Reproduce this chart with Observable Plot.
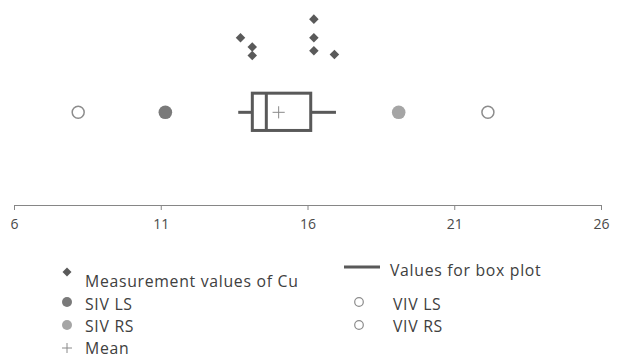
<!DOCTYPE html>
<html>
<head>
<meta charset="utf-8">
<script src="https://cdn.jsdelivr.net/npm/d3@7"></script>
<script src="https://cdn.jsdelivr.net/npm/@observablehq/plot@0.6"></script>
<style>
  html, body { margin: 0; padding: 0; background: #fff; }
  #wrap { position: relative; width: 620px; height: 360px; overflow: hidden; font-family: "Open Sans", sans-serif; }
  #chart svg { display: block; }
  #legend { position: relative; width: 620px; height: 115px; }
  .lg-text { position: absolute; font-size: 15.8px; letter-spacing: 0.7px; color: #404040; line-height: 16px; white-space: nowrap; }
  .lg-mark { position: absolute; overflow: visible; }
</style>
</head>
<body>
<div id="wrap">
  <div id="chart"></div>
  <div id="legend"></div>
</div>
<script>
// ---- data ----
const cuValues = [13.7, 14.1, 14.1, 16.2, 16.2, 16.2, 16.9];
const cuLevels = [1.8, 1.7, 1.61, 2.0, 1.8, 1.66, 1.62];
const boxStats = [13.64, 14.12, 14.58, 16.11, 16.97]; // whisker low, Q1, median, Q3, whisker high
const meanValue = [15.0];
const sivLS = [11.14];
const sivRS = [19.09];
const vivLS = [8.17];
const vivRS = [22.13];
const tickValues = [6, 11, 16, 21, 26];
const legendLabels = ["Measurement values of Cu", "SIV LS", "SIV RS", "Mean", "Values for box plot", "VIV LS", "VIV RS"];

// ---- derived tables ----
const cuData = cuValues.map((v, i) => ({x: v, y: cuLevels[i]}));
const row = 1, half = 0.2;
const [wLo, q1, med, q3, wHi] = boxStats;
const boxData = [{x1: q1, x2: q3, y1: row - half, y2: row + half}];
const medData = [{x: med, y1: row - half, y2: row + half}];
const whiskData = [{x1: wLo, x2: q1, y: row}, {x1: q3, x2: wHi, y: row}];

const FONT = "Open Sans, sans-serif";
const boxColor = "#595959";

const plot = Plot.plot({
  width: 620,
  height: 245,
  marginTop: 0,
  marginBottom: 40,
  marginLeft: 14,
  marginRight: 19,
  style: {fontFamily: FONT, background: "#fff"},
  x: {domain: [6, 26]},
  y: {domain: [0, 2.2], axis: null},
  marks: [
    Plot.ruleY([0], {stroke: "#868686", strokeWidth: 1}),
    Plot.axisX({ticks: tickValues, tickSize: 5, tickPadding: 9, stroke: "#868686", color: "#4a4a4a", fontSize: 14, label: null, tickFormat: d => String(d)}),
    Plot.ruleY(whiskData, {x1: "x1", x2: "x2", y: "y", stroke: boxColor, strokeWidth: 3}),
    Plot.rect(boxData, {x1: "x1", x2: "x2", y1: "y1", y2: "y2", fill: "#fff", stroke: boxColor, strokeWidth: 3}),
    Plot.ruleX(medData, {x: "x", y1: "y1", y2: "y2", stroke: boxColor, strokeWidth: 3}),
    Plot.dot(meanValue, {x: d => d, y: row, symbol: "plus", r: 4, stroke: "#8a8a8a", strokeWidth: 1}),
    Plot.dot(vivLS, {x: d => d, y: row, r: 6, fill: "#fff", stroke: "#8c8c8c", strokeWidth: 1.5}),
    Plot.dot(vivRS, {x: d => d, y: row, r: 6, fill: "#fff", stroke: "#8c8c8c", strokeWidth: 1.5}),
    Plot.dot(sivLS, {x: d => d, y: row, r: 6.8, fill: "#7a7a7a", stroke: "none"}),
    Plot.dot(sivRS, {x: d => d, y: row, r: 6.8, fill: "#a5a5a5", stroke: "none"}),
    Plot.dot(cuData, {x: "x", y: "y", symbol: "square", r: 3.8, rotate: 45, fill: "#5a5a5a", stroke: "none"})
  ]
});
document.getElementById("chart").appendChild(plot);

// ---- legend (HTML below the SVG) ----
const legend = document.getElementById("legend");
const swatches = {
  diamond: '<rect x="-3.2" y="-3.2" width="6.4" height="6.4" transform="rotate(45)" fill="#5a5a5a"/>',
  sivls: '<circle r="5" fill="#7a7a7a"/>',
  sivrs: '<circle r="5" fill="#a5a5a5"/>',
  mean: '<path d="M-5,0H5M0,-5V5" stroke="#8a8a8a" stroke-width="1"/>',
  line: '<line x1="-18" x2="18" y1="0" y2="0" stroke="#595959" stroke-width="3"/>',
  viv: '<circle r="4.3" fill="#fff" stroke="#8c8c8c" stroke-width="1.2"/>'
};
const kinds = ["diamond", "sivls", "sivrs", "mean", "line", "viv", "viv"];
// layout (relative to legend top = 245)
const layout = [
  {mx: 67, my: 27, tx: 85, ty: 36},
  {mx: 67, my: 57, tx: 85, ty: 59},
  {mx: 67, my: 80, tx: 85, ty: 81},
  {mx: 67, my: 103, tx: 85, ty: 103},
  {mx: 362, my: 22, tx: 390, ty: 25},
  {mx: 359, my: 57, tx: 393, ty: 59},
  {mx: 359, my: 80, tx: 393, ty: 81}
];
legendLabels.forEach((label, i) => {
  const L = layout[i];
  const svg = document.createElementNS("http://www.w3.org/2000/svg", "svg");
  svg.setAttribute("class", "lg-mark");
  svg.setAttribute("width", 40);
  svg.setAttribute("height", 20);
  svg.setAttribute("viewBox", "-20 -10 40 20");
  svg.style.left = (L.mx - 20) + "px";
  svg.style.top = (L.my - 10) + "px";
  svg.innerHTML = swatches[kinds[i]];
  legend.appendChild(svg);
  const t = document.createElement("div");
  t.className = "lg-text";
  t.textContent = label;
  t.style.left = L.tx + "px";
  t.style.top = (L.ty - 8) + "px";
  legend.appendChild(t);
});
</script>
</body>
</html>
